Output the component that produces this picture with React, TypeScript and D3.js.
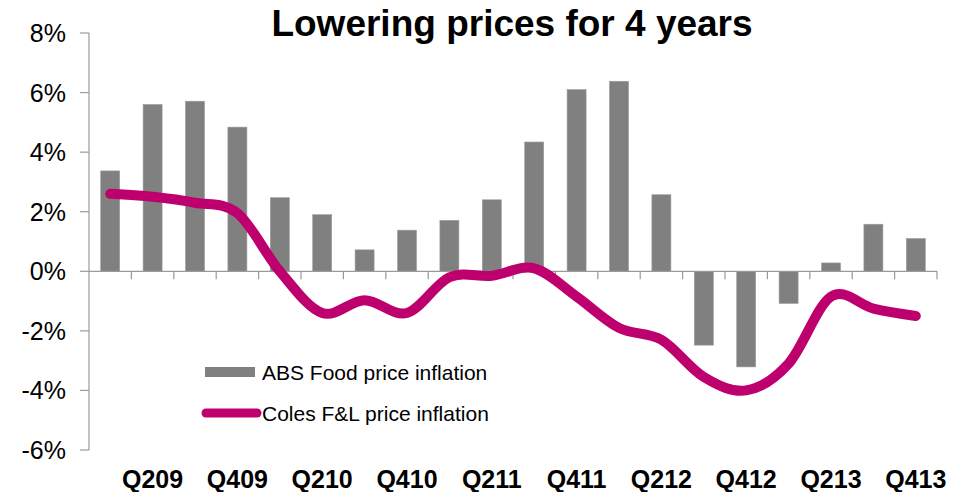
import React from "react";
import * as d3 from "d3";

const categories = [
  "Q109", "Q209", "Q309", "Q409",
  "Q110", "Q210", "Q310", "Q410",
  "Q111", "Q211", "Q311", "Q411",
  "Q112", "Q212", "Q312", "Q412",
  "Q113", "Q213", "Q313", "Q413",
];
const absFood = [3.37, 5.6, 5.71, 4.84, 2.47, 1.9, 0.72, 1.38, 1.71, 2.4, 4.34, 6.1, 6.38, 2.57, -2.48, -3.21, -1.08, 0.28, 1.58, 1.1];
const colesFL = [2.6, 2.5, 2.3, 1.95, 0.0, -1.4, -0.97, -1.4, -0.2, -0.15, 0.1, -0.85, -1.9, -2.3, -3.55, -4.0, -3.1, -0.85, -1.25, -1.5];
const yTicks = [8, 6, 4, 2, 0, -2, -4, -6];
const title = "Lowering prices for 4 years";
const legendLabels = ["ABS Food price inflation", "Coles F&L price inflation"];

const W = 953, H = 492;
const left = 89, right = 937, top = 33, bottom = 450;
const BAR = "#808080";
const LINE = "#BE006E";
const AXIS = "#9a9a9a";

export default function App() {
  const x = d3.scaleBand<string>().domain(categories).range([left, right]).paddingInner(0).paddingOuter(0);
  const y = d3.scaleLinear().domain([-6, 8]).range([bottom, top]);
  const bw = 19;
  const cx = (c: string) => (x(c) as number) + x.bandwidth() / 2;
  const line = d3
    .line<number>()
    .x((_, i) => cx(categories[i]))
    .y((d) => y(d))
    .curve(d3.curveCatmullRom.alpha(0));
  const y0 = y(0);
  return (
    <svg width={W} height={H} style={{ position: "absolute", left: 0, top: 0, background: "#fff" }} fontFamily="'Liberation Sans', Arial, sans-serif">
      <text x={512} y={36} textAnchor="middle" fontSize={37} fontWeight="bold" fill="#000">{title}</text>
      {/* y axis */}
      <line x1={left} x2={left} y1={top} y2={bottom} stroke={AXIS} strokeWidth={1.2} />
      {yTicks.map((t) => (
        <g key={t}>
          <line x1={left - 9} x2={left} y1={y(t)} y2={y(t)} stroke={AXIS} strokeWidth={1.2} />
          <text x={66} y={y(t)} dy="0.36em" textAnchor="end" fontSize={25} fill="#000">{t}%</text>
        </g>
      ))}
      {/* bars */}
      {absFood.map((v, i) => (
        <rect key={i} x={cx(categories[i]) - bw / 2} y={Math.min(y(v), y0)} width={bw} height={Math.abs(y(v) - y0)} fill={BAR} stroke="#9c9c9c" strokeWidth={0.6} />
      ))}
      {/* x axis */}
      <line x1={left} x2={right} y1={y0} y2={y0} stroke={AXIS} strokeWidth={1.2} />
      {categories.map((c, i) => (
        <line key={c} x1={(x(c) as number) + x.bandwidth()} x2={(x(c) as number) + x.bandwidth()} y1={y0} y2={y0 + 8} stroke={AXIS} strokeWidth={1.2} />
      ))}
      {categories.map((c, i) =>
        i % 2 === 1 ? (
          <text key={c} x={cx(c)} y={488} textAnchor="middle" fontSize={25} fontWeight="bold" fill="#000">{c}</text>
        ) : null
      )}
      {/* line */}
      <path d={line(colesFL) || ""} fill="none" stroke={LINE} strokeWidth={10} strokeLinecap="round" strokeLinejoin="round" />
      {/* legend */}
      <rect x={205} y={367} width={50} height={10} fill={BAR} />
      <text x={262} y={372} dy="0.36em" fontSize={21} fill="#000">{legendLabels[0]}</text>
      <line x1={206} x2={257} y1={413} y2={413} stroke={LINE} strokeWidth={9} strokeLinecap="round" />
      <text x={262} y={413} dy="0.36em" fontSize={21} fill="#000">{legendLabels[1]}</text>
    </svg>
  );
}
